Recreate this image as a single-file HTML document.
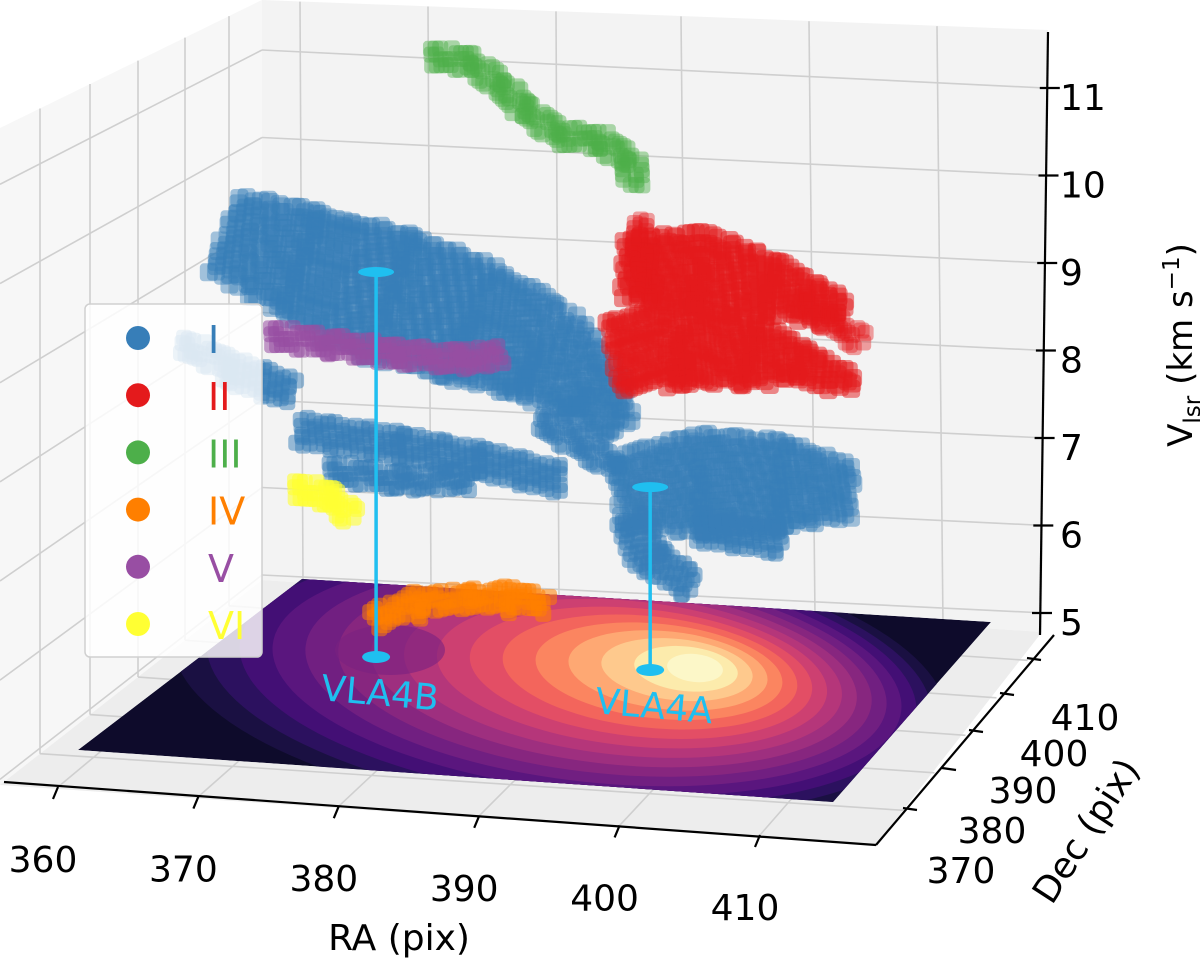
<!DOCTYPE html>
<html><head><meta charset="utf-8"><style>
html,body{margin:0;padding:0;background:#fff;}
svg{display:block;font-family:"DejaVu Sans","Liberation Sans",sans-serif;}
</style></head><body>
<svg id="chart" width="1200" height="960" viewBox="0 0 1200 960" xmlns="http://www.w3.org/2000/svg">
<defs>
<clipPath id="floorClip"><polygon points="302,579 991,622 833,802 78,750"/></clipPath>
</defs>
<g id="panes">
<polygon points="0,128 262,0 262,580 0,785" fill="#f7f7f7"/>
<polygon points="262,0 1048,30 1042,632 262,580" fill="#f3f3f3"/>
<polygon points="0,785 262,580 1042,632 876,845" fill="#ededed"/>
</g>
<g id="grid" stroke="#cfcfcf" stroke-width="1.6" fill="none"></g>
<g id="heat" clip-path="url(#floorClip)"></g>
<g id="axes"></g>
<g id="marks"></g>
<g id="vla"></g>
<g id="legend"></g>
</svg>
<script>
// ---- data (RA pix, Vlsr km/s), Dec fixed plane for clouds ----
const raTicks=[360,370,380,390,400,410];
const decTicks=[370,380,390,400,410];
const vTicks=[5,6,7,8,9,10,11];
const blueMainRA=[365.6,370.9,377.3,383.0,388.0,391.6,393.3];
const blueMainV=[9.90,9.62,9.30,9.08,8.80,8.38,7.96];
const blueLeftRA=[362.4,365.9,370.2];
const blueLeftV=[8.59,8.35,8.16];
const blueArmARA=[370.9,378.0,383.7,389.4];
const blueArmAV=[7.71,7.62,7.51,7.35];
const blueArmBRA=[373.0,378.0,383.0];
const blueArmBV=[7.28,7.22,7.28];
const blueCrossRA=[388.0,393.7];
const blueCrossV=[8.02,7.51];
const blueLobeRA=[393.7,399.4,405.1,410.1];
const blueLobeV=[7.25,7.40,7.45,7.42];
const blueHookRA=[394.4,395.8,398.7];
const blueHookV=[6.94,6.50,6.25];
const blueLowRA=[399.4,405.1];
const blueLowV=[6.88,6.83];
const redARA=[394.0,399.4,404.4,409.4];
const redAV=[9.80,9.85,9.70,9.48];
const redBRA=[393.3,398.0,402.9,406.5,410.1];
const redBV=[8.80,9.00,8.95,8.85,8.66];
const redStemRA=[395.1,395.5];
const redStemV=[10.38,9.47];
const redTailRA=[406.5,410.8];
const redTailV=[9.59,9.18];
const greenRA=[380.2,383.0,385.1,386.9,389.4,392.3,394.4,394.8];
const greenV=[12.10,12.05,11.81,11.55,11.29,11.26,11.06,10.78];
const purpleRA=[368.8,373.0,378.0,382.3,385.1];
const purpleV=[8.78,8.71,8.65,8.64,8.73];
const yellowRA=[370.5,373.0,374.5];
const yellowV=[7.05,6.99,6.78];
const orangeRA=[376.2,379.4,383.0,385.9,388.3];
const orangeV=[5.60,5.81,5.90,5.94,5.90];
const vlaNames=["VLA4B","VLA4A"];
const vlaRA=[374.2,393.4];
const vlaDec=[399.6,401.05];
const vlaTopV=[9.15,6.84];
const legendLabels=["I","II","III","IV","V","VI"];
</script>
<script>
const NS="http://www.w3.org/2000/svg";
function mk(tag,attrs,parent){const e=document.createElementNS(NS,tag);for(const k in attrs)e.setAttribute(k,attrs[k]);parent.appendChild(e);return e;}
const VF=4.75, DEC0=361.3, DECP=390;
function px(ra,dec,v){return 58+(ra-360)*14.04+(dec-DEC0)*3.1;}
function py(ra,dec,v){return 787+(ra-360)*0.96-(dec-DEC0)*3.75-(v-VF)*87.5;}
const grid=document.getElementById('grid');
vTicks.forEach(v=>{const yr=613-(v-5)*87.5; const yl=yr-38;
 const l=mk('line',{x1:262,y1:yl,x2:1045,y2:yr},grid);
 
 const drop=135+(yl-55)/525*70;
 const l2=mk('line',{x1:262,y1:yl,x2:0,y2:yl+drop},grid);
 });
const backX=[303,431,559,687,815,943];
const frontX=raTicks.map(r=>px(r,DEC0,VF)), frontY=raTicks.map(r=>py(r,DEC0,VF));
backX.forEach((bx,i)=>{const by=580+(bx-262)*52/780;
 const l=mk('line',{x1:bx,y1:by,x2:bx+(i<3?-3:-6),y2:by-580+ (bx-262)*(-22)/780},grid);
 
 const f=mk('line',{x1:frontX[i],y1:frontY[i],x2:bx,y2:by},grid);
 });
const leftX=[40,90,138,185,229];
decTicks.forEach((d,i)=>{const lx=leftX[i];
 const top=128-lx*128/262, bot=785-lx*205/262;
 const l=mk('line',{x1:lx,y1:top,x2:lx,y2:bot},grid);
 
 const rx=px(418.3,d,VF), ry=py(418.3,d,VF);
 const f=mk('line',{x1:lx,y1:bot,x2:rx,y2:ry},grid);
 });
// heatmap
const heat=document.getElementById('heat');
mk('polygon',{points:"302,579 991,622 833,802 78,750",fill:"#0e0b2b"},heat);
const magma=["#1a1042","#2c115f","#430f75","#5a167e","#711f81","#87267f","#9e2f7f","#b5367a","#cd4071","#e34e65","#f3655c","#fb8560","#fea873","#fec98d","#fcebac","#fcf7c8"];
magma.forEach((c,i)=>{const t=i/(magma.length-1);
 const cx=560+135*t, cy=680-12*t, rx=360*(1-t)+28, ry=125*(1-t)+14;
 const e=mk('ellipse',{cx:cx,cy:cy,rx:rx,ry:ry,fill:c,transform:`rotate(6 ${cx} ${cy})`},heat);
 });
const bl=mk('ellipse',{cx:390,cy:650,rx:55,ry:25,fill:"#7a2280",opacity:0.6},heat);

// axes
const axes=document.getElementById('axes');
function line(x1,y1,x2,y2,name){const l=mk('line',{x1,y1,x2,y2,stroke:"#000","stroke-width":2.2},axes);}
line(4,782,876,845,'ra-axis-line');line(876,845,1054,635,'dec-axis-line');line(1048,32,1040,635,'v-axis-line');
function txt(s,x,y,attrs,name,parent){const t=mk('text',Object.assign({x,y},attrs),parent||axes);t.textContent=s;return t;}
raTicks.forEach((r,i)=>{const x=frontX[i],y=frontY[i];line(x,y,x-5,y+12,'ra-tick');
 txt(String(r),x-15,y+85,{"font-size":36,"text-anchor":"middle"},'ra-tick-label');});
const rightTx=[903,942,969,1000,1027],rightTy=[808,768,730,693,658];
const decLX=[961,992,1023,1054,1085],decLY=[870,830,790,753,717];
decTicks.forEach((d,i)=>{line(rightTx[i],rightTy[i],rightTx[i]+14,rightTy[i]+2,'dec-tick');
 txt(String(d),decLX[i],decLY[i]+13,{"font-size":36,"text-anchor":"middle"},'dec-tick-label');});
vTicks.forEach(v=>{const y=613-(v-5)*87.5, x=1040+(v-5)*1.3;
 line(x-8,y,x+12,y,'v-tick');txt(String(v),1060,y+22,{"font-size":36},'v-tick-label');});
txt("RA (pix)",399,950,{"font-size":36,"text-anchor":"middle"},'ra-axis-title');
txt("Dec (pix)",1088,842,{"font-size":36,"text-anchor":"middle",transform:"rotate(-57 1088 832)"},'dec-axis-title');
const vt=txt("",1192,345,{"font-size":34,"text-anchor":"middle",transform:"rotate(-90 1192 345)"},'v-axis-title');
vt.innerHTML='V<tspan font-size="23" dy="8">lsr</tspan><tspan dy="-8"> (km s</tspan><tspan font-size="23" dy="-13">−1</tspan><tspan dy="13">)</tspan>';
// scatter
const marks=document.getElementById('marks');
function cloud(raArr,vArr,halfW,color,alpha,name,size){
 const pts=raArr.map((r,i)=>[px(r,DECP,vArr[i]),py(r,DECP,vArr[i])]);
 const g=mk('g',{fill:color,"fill-opacity":alpha},marks);
 
 let k=0;
 for(let i=0;i<pts.length-1;i++){
  const a=pts[i],b=pts[i+1];
  const dx=b[0]-a[0],dy=b[1]-a[1],L=Math.max(1,Math.hypot(dx,dy));
  const nx=-dy/L,ny=dx/L;const steps=Math.max(1,Math.round(L/6));
  for(let s=0;s<=steps;s++){const t=s/steps;const h=halfW[i]*(1-t)+halfW[i+1]*t;
   const cx=a[0]+dx*t,cy=a[1]+dy*t;
   for(let o=-h;o<=h+0.1;o+=8){k++;const j=((k*37)%7)-3;
    const r=mk('rect',{x:cx+nx*o-size/2+j,y:cy+ny*o-size/2+((k*13)%5)-2,width:size,height:size,rx:4},g);
    }}}
}
cloud(orangeRA,orangeV,[10,12,10,12,10],"#ff7f00",0.55,'cloud-iv-orange',16);
cloud(blueMainRA,blueMainV,[40,55,65,60,50,35,20],"#377eb8",0.45,'cloud-i-blue-main',18);
cloud(blueLeftRA,blueLeftV,[10,12,12],"#377eb8",0.5,'cloud-i-blue-left',16);
cloud(blueArmARA,blueArmAV,[12,12,12,12],"#377eb8",0.5,'cloud-i-blue-arm-a',16);
cloud(blueArmBRA,blueArmBV,[8,8,8],"#377eb8",0.5,'cloud-i-blue-arm-b',16);
cloud(blueCrossRA,blueCrossV,[8,8],"#377eb8",0.5,'cloud-i-blue-cross',16);
cloud(blueLobeRA,blueLobeV,[35,50,45,25],"#377eb8",0.45,'cloud-i-blue-lobe',18);
cloud(blueHookRA,blueHookV,[18,16,12],"#377eb8",0.5,'cloud-i-blue-hook',16);
cloud(blueLowRA,blueLowV,[14,12],"#377eb8",0.5,'cloud-i-blue-low',16);
cloud(purpleRA,purpleV,[8,9,9,9,8],"#984ea3",0.55,'cloud-v-purple',16);
cloud(yellowRA,yellowV,[8,8,8],"#ffff33",0.6,'cloud-vi-yellow',16);
cloud(redARA,redAV,[30,38,28,14],"#e41a1c",0.5,'cloud-ii-red-a',18);
cloud(redBRA,redBV,[36,42,32,18,10],"#e41a1c",0.5,'cloud-ii-red-b',18);
cloud(redStemRA,redStemV,[8,10],"#e41a1c",0.4,'cloud-ii-red-stem',16);
cloud(redTailRA,redTailV,[8,8],"#e41a1c",0.4,'cloud-ii-red-tail',16);
cloud(greenRA,greenV,[8,9,9,9,8,8,8,8],"#4daf4a",0.45,'cloud-iii-green',16);
// VLA markers
const vla=document.getElementById('vla');
vlaNames.forEach((n,i)=>{const x=px(vlaRA[i],vlaDec[i],VF),y0=py(vlaRA[i],vlaDec[i],VF),y1=py(vlaRA[i],vlaDec[i],vlaTopV[i]);
 const l=mk('line',{x1:x,y1:y0,x2:x,y2:y1,stroke:"#1fbff0","stroke-width":3.5},vla);
 
 const c1=mk('ellipse',{cx:x,cy:y0,rx:14,ry:6,fill:"#1fbff0"},vla);
 
 const c2=mk('ellipse',{cx:x,cy:y1,rx:18,ry:5,fill:"#1fbff0"},vla);
 
 txt(n,x+4,y0+48,{"font-size":36,"text-anchor":"middle",fill:"#1fbff0",transform:`rotate(5 ${x} ${y0+35})`},'vla-label',vla);});
// legend
const lg=document.getElementById('legend');
const lr=mk('rect',{x:85,y:304,width:177,height:353,rx:5,fill:"#fff","fill-opacity":0.82,stroke:"#d0d0d0","stroke-width":1.5},lg);

const legColors=["#377eb8","#e41a1c","#4daf4a","#ff7f00","#984ea3","#ffff33"];
legendLabels.forEach((s,i)=>{const y=338+i*57.2;
 const c=mk('circle',{cx:138,cy:y,r:12,fill:legColors[i]},lg);
 
 txt(s,208,y+15,{"font-size":38,fill:legColors[i]},'legend-entry',lg);});
</script>
</body></html>
